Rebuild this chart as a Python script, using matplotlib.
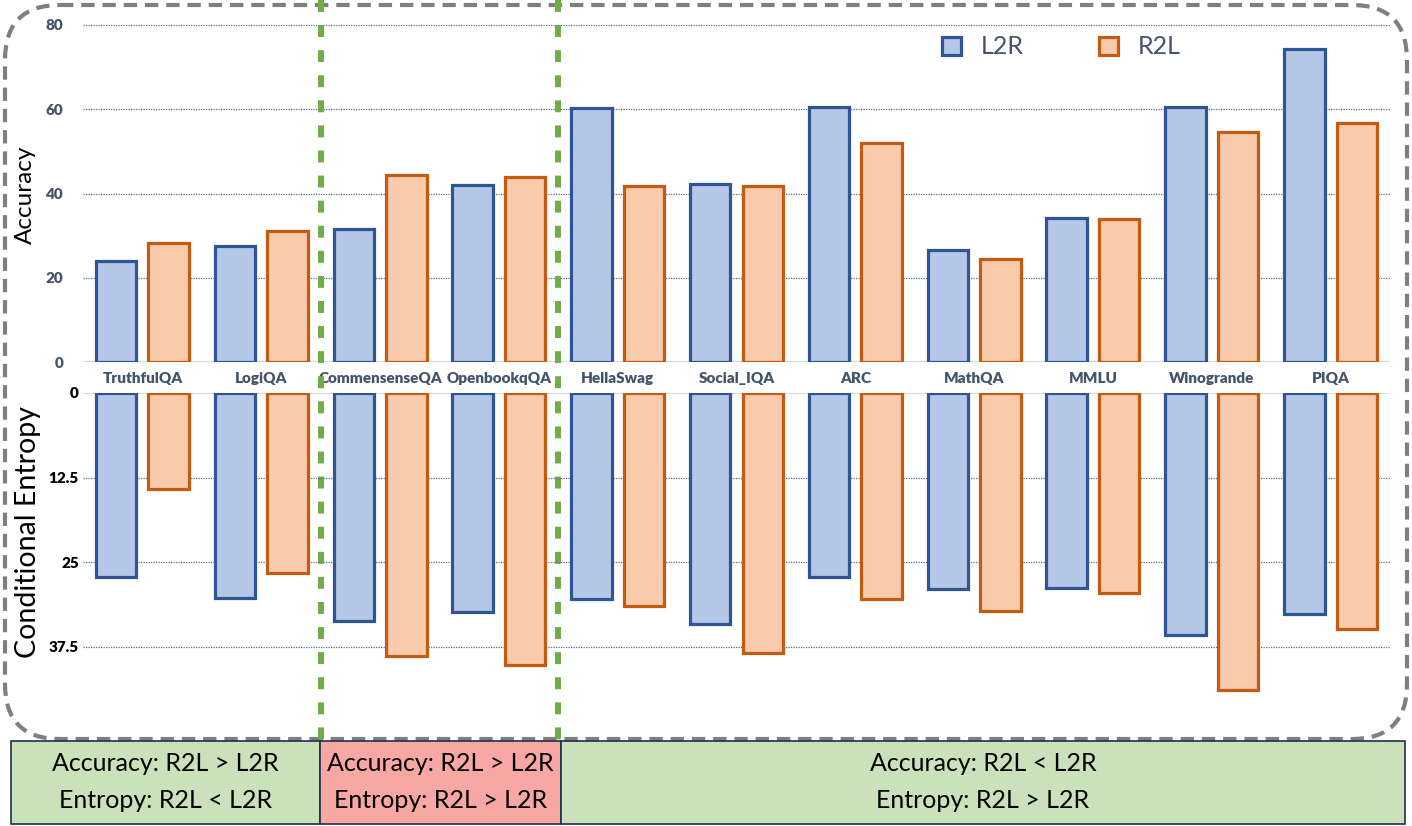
import matplotlib
matplotlib.use("Agg")
import matplotlib.pyplot as plt
import numpy as np
from matplotlib.patches import FancyBboxPatch, Rectangle, Patch
from matplotlib.transforms import blended_transform_factory

# ---------------- data ----------------
categories = ["TruthfulQA", "LogiQA", "CommensenseQA", "OpenbookqQA", "HellaSwag",
              "Social_IQA", "ARC", "MathQA", "MMLU", "Winogrande", "PIQA"]
acc_l2r = [23.9, 27.6, 31.5, 42.0, 60.3, 42.3, 60.5, 26.5, 34.2, 60.5, 74.2]
acc_r2l = [28.3, 31.2, 44.3, 43.9, 41.7, 41.7, 51.9, 24.5, 34.0, 54.5, 56.8]
ent_l2r = [27.1, 30.3, 33.6, 32.3, 30.35, 34.1, 27.1, 29.0, 28.8, 35.7, 32.7]
ent_r2l = [14.2, 26.6, 38.8, 40.2, 31.5, 38.4, 30.35, 32.2, 29.6, 43.8, 34.9]
acc_ticks = [0, 20, 40, 60, 80]
ent_ticks = [0, 12.5, 25, 37.5]
ent_tick_labels = ["0", "12.5", "25", "37.5"]
series_names = ["L2R", "R2L"]
group_bounds = [1.5, 3.5]
box_texts = ["Accuracy: R2L > L2R\nEntropy: R2L < L2R",
             "Accuracy: R2L > L2R\nEntropy: R2L > L2R",
             "Accuracy: R2L < L2R\nEntropy: R2L > L2R"]

# ---------------- style ----------------
FONT = ["Lato", "DejaVu Sans"]
plt.rcParams['font.family'] = FONT
L2R_FACE, L2R_EDGE = "#B4C7E7", "#2F5597"
R2L_FACE, R2L_EDGE = "#F8CBAD", "#C55A11"
TXT = "#44546A"
GRID = "#5B6F9A"

W, H = 1412, 826
fig = plt.figure(figsize=(W / 100, H / 100), dpi=100)

def fx(px):
    return px / W

def fy(py):
    return 1 - py / H

ax_left, ax_right = 83, 1390
top_y0, top_y1 = 362, 25          # pixel rows for 0 and 80
bot_y0, bot_y1 = 393, 703         # pixel rows for 0 and bottom limit
ent_max = (bot_y1 - bot_y0) / ((647 - 393) / 37.5)

ax1 = fig.add_axes([fx(ax_left), fy(top_y0), fx(ax_right - ax_left), (top_y0 - top_y1) / H])
ax2 = fig.add_axes([fx(ax_left), fy(bot_y1), fx(ax_right - ax_left), (bot_y1 - bot_y0) / H])

x = np.arange(len(categories))
bw = 0.34
off = 0.221

for ax in (ax1, ax2):
    ax.set_xlim(-0.5, len(categories) - 0.5)
    for s in ax.spines.values():
        s.set_visible(False)
    ax.set_facecolor("none")

# top: accuracy
ax1.bar(x - off, acc_l2r, bw, color=L2R_FACE, edgecolor=L2R_EDGE, linewidth=2.3, zorder=3)
ax1.bar(x + off, acc_r2l, bw, color=R2L_FACE, edgecolor=R2L_EDGE, linewidth=2.3, zorder=3)
ax1.set_ylim(0, 80)
ax1.set_yticks(acc_ticks)
ax1.set_yticklabels([str(t) for t in acc_ticks])
for t in acc_ticks[1:]:
    ax1.axhline(t, color=GRID, lw=0.9, ls=(0, (1, 1)), zorder=1)
ax1.axhline(0, color="#D9D9D9", lw=1.5, zorder=2)
ax1.tick_params(axis='y', length=0, pad=14, labelsize=11, labelcolor=TXT)
for lab in ax1.get_yticklabels():
    lab.set_fontweight('heavy')
ax1.set_xticks(x)
ax1.set_xticklabels(categories, fontsize=11, fontweight='heavy', color=TXT)
ax1.tick_params(axis='x', length=0, pad=7)

# bottom: entropy (downwards)
ax2.bar(x - off, ent_l2r, bw, color=L2R_FACE, edgecolor=L2R_EDGE, linewidth=2.3, zorder=3)
ax2.bar(x + off, ent_r2l, bw, color=R2L_FACE, edgecolor=R2L_EDGE, linewidth=2.3, zorder=3)
ax2.set_ylim(ent_max, 0)
ax2.set_yticks(ent_ticks)
ax2.set_yticklabels(ent_tick_labels)
for t in ent_ticks[1:]:
    ax2.axhline(t, color=GRID, lw=0.9, ls=(0, (1, 1)), zorder=1)
ax2.axhline(0, color="#D9D9D9", lw=1.5, zorder=2)
ax2.tick_params(axis='y', length=0, pad=3, labelsize=11, labelcolor="black")
for lab in ax2.get_yticklabels():
    lab.set_fontweight('heavy')
ax2.set_xticks([])

# axis titles
fig.text(fx(25), fy(195), "Accuracy", rotation=90, ha='center', va='center', fontsize=17.5, color="black")
fig.text(fx(28), fy(532), "Conditional Entropy", rotation=90, ha='center', va='center', fontsize=20.5, color="black")

# legend
handles = [Patch(facecolor=L2R_FACE, edgecolor=L2R_EDGE, linewidth=2.3, label=series_names[0]),
           Patch(facecolor=R2L_FACE, edgecolor=R2L_EDGE, linewidth=2.3, label=series_names[1])]
leg = fig.legend(handles=handles, loc='center left', bbox_to_anchor=(fx(942), fy(47)), ncol=2,
                 frameon=False, fontsize=18, handlelength=0.75, handleheight=0.75,
                 handletextpad=0.8, columnspacing=3.0, borderpad=0, borderaxespad=0)
for t in leg.get_texts():
    t.set_color(TXT)

# overlay in pixel coordinates
ov = fig.add_axes([0, 0, 1, 1], zorder=-1)
ov.set_xlim(0, W)
ov.set_ylim(H, 0)
ov.axis('off')
border = FancyBboxPatch((5, 5), W - 10, 734, boxstyle="round,pad=0,rounding_size=55",
                        facecolor='none', edgecolor="#7F7F7F", linewidth=3,
                        linestyle=(0, (3.2, 1.9)))
ov.add_patch(border)

# table boxes
box_edges = [11, 320, 561, 1405]
box_colors = ["#CBE1BC", "#F9A7A5", "#CBE1BC"]
for i in range(3):
    ov.add_patch(Rectangle((box_edges[i], 741), box_edges[i + 1] - box_edges[i], 83,
                           facecolor=box_colors[i], edgecolor="#1F2F4F", linewidth=1.2))
    ov.text((box_edges[i] + box_edges[i + 1]) / 2, 782, box_texts[i], ha='center', va='center',
            fontsize=18, linespacing=1.75, color="black")

# green separators
tr = blended_transform_factory(ax1.transData, fig.transFigure)
for b in group_bounds:
    ax1.plot([b, b], [1.0, fy(740)], transform=tr, clip_on=False, color="#70AD47",
             lw=4.3, ls=(0, (2.0, 2.2)), zorder=10, solid_capstyle='butt', dash_capstyle='butt')

fig.savefig("out.png", dpi=100)
